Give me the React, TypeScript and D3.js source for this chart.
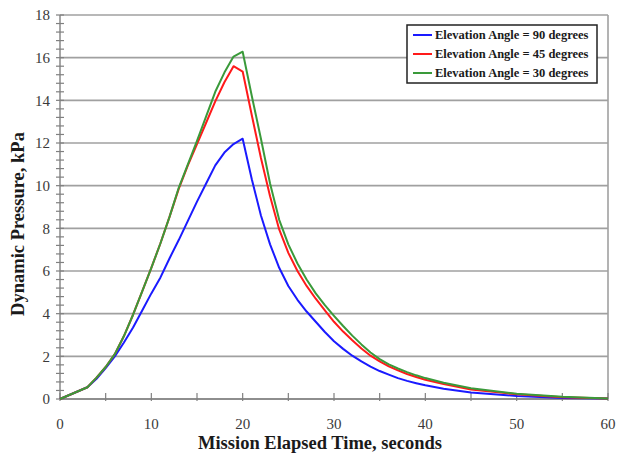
import React from "react";
import * as d3 from "d3";

// Mission elapsed time (s) at which dynamic pressure was sampled
const times = [
  0, 3, 4, 5, 6, 7, 8, 9, 10, 11, 12, 13, 14, 15, 16, 17, 18, 19, 20,
  21, 22, 23, 24, 25, 26, 27, 28, 29, 30, 31, 32, 33, 34, 35, 36, 37, 38, 39, 40,
  42, 45, 50, 55, 60,
];

// Dynamic pressure (kPa) for each elevation angle
const q90 = [
  0, 0.55, 0.95, 1.45, 2.0, 2.65, 3.35, 4.15, 4.95, 5.7, 6.6, 7.45, 8.35, 9.25, 10.1, 10.95, 11.55, 11.95, 12.2,
  10.3, 8.6, 7.25, 6.15, 5.3, 4.65, 4.1, 3.62, 3.14, 2.71, 2.35, 2.03, 1.76, 1.52, 1.31, 1.14, 0.98, 0.85, 0.74, 0.64,
  0.48, 0.31, 0.14, 0.05, 0.02,
];
const q45 = [
  0, 0.55, 1.0, 1.5, 2.1, 2.95, 3.95, 5.05, 6.15, 7.3, 8.55, 9.85, 10.95, 11.95, 12.95, 13.95, 14.85, 15.6, 15.35,
  13.3, 11.3, 9.5, 7.95, 6.85, 6.0, 5.3, 4.7, 4.15, 3.62, 3.16, 2.75, 2.37, 2.03, 1.76, 1.53, 1.34, 1.17, 1.03, 0.9,
  0.7, 0.45, 0.22, 0.08, 0.02,
];
const q30 = [
  0, 0.55, 1.0, 1.5, 2.1, 2.95, 3.95, 5.05, 6.15, 7.3, 8.55, 9.9, 11.0, 12.1, 13.25, 14.4, 15.3, 16.05, 16.28,
  14.2, 12.2, 10.1, 8.4, 7.25, 6.35, 5.6, 4.95, 4.4, 3.9, 3.42, 2.97, 2.56, 2.18, 1.87, 1.62, 1.43, 1.26, 1.11, 0.98,
  0.76, 0.5, 0.25, 0.1, 0.02,
];

const seriesNames = [
  "Elevation Angle = 90 degrees",
  "Elevation Angle = 45 degrees",
  "Elevation Angle = 30 degrees",
];
const seriesColors = ["#1a1aff", "#ff1a1a", "#3a9a3a"];
const seriesValues = [q90, q45, q30];

const xTicks = [0, 10, 20, 30, 40, 50, 60];
const yTicks = [0, 2, 4, 6, 8, 10, 12, 14, 16, 18];

const W = 618;
const H = 456;
const left = 60;
const right = 608;
const top = 15;
const bottom = 399;

const serif = "'Liberation Serif', 'Times New Roman', serif";

export default function App() {
  const x = d3.scaleLinear().domain([0, 60]).range([left, right]);
  const y = d3.scaleLinear().domain([0, 18]).range([bottom, top]);

  const line = d3
    .line<[number, number]>()
    .x((d) => x(d[0]))
    .y((d) => y(d[1]));

  const minorY = d3.range(0, 18.0001, 0.4);
  const minorX = d3.range(0, 60.0001, 5);

  return (
    <svg
      width={W}
      height={H}
      style={{ position: "absolute", left: 0, top: 0, background: "#fff" }}
    >
      {/* horizontal gridlines */}
      {yTicks.map((t) => (
        <line
          key={"g" + t}
          x1={left}
          x2={right}
          y1={y(t)}
          y2={y(t)}
          stroke="#a0a0a0"
          strokeWidth={1.6}
        />
      ))}
      {/* right frame edge */}
      <line x1={right} x2={right} y1={top} y2={bottom} stroke="#a0a0a0" strokeWidth={1.6} />

      {/* y axis */}
      <line x1={left} x2={left} y1={top} y2={bottom} stroke="#808080" strokeWidth={1.4} />
      {minorY.map((t, i) => (
        <line
          key={"my" + i}
          x1={left - 4}
          x2={left + 4}
          y1={y(t)}
          y2={y(t)}
          stroke="#808080"
          strokeWidth={1.2}
        />
      ))}
      {yTicks.map((t) => (
        <text
          key={"yl" + t}
          x={left - 10}
          y={y(t)}
          dy="0.35em"
          textAnchor="end"
          fontFamily={serif}
          fontSize={15}
          fill="#3a3a3a"
        >
          {t}
        </text>
      ))}

      {/* x axis */}
      <line x1={left} x2={right} y1={bottom} y2={bottom} stroke="#808080" strokeWidth={1.6} />
      {minorX.map((t, i) => (
        <line
          key={"mx" + i}
          x1={x(t)}
          x2={x(t)}
          y1={bottom - 6}
          y2={bottom + 2}
          stroke="#808080"
          strokeWidth={1.2}
        />
      ))}
      {xTicks.map((t) => (
        <text
          key={"xl" + t}
          x={x(t)}
          y={bottom + 30}
          textAnchor="middle"
          fontFamily={serif}
          fontSize={15}
          fill="#3a3a3a"
        >
          {t}
        </text>
      ))}

      {/* series */}
      {seriesValues.map((vals, si) => (
        <path
          key={"s" + si}
          d={line(times.map((t, i) => [t, vals[i]] as [number, number])) || ""}
          fill="none"
          stroke={seriesColors[si]}
          strokeWidth={2}
          strokeLinejoin="round"
        />
      ))}

      {/* axis titles */}
      <text
        x={(left + right) / 2 - 14}
        y={449}
        textAnchor="middle"
        fontFamily={serif}
        fontWeight="bold"
        fontSize={18.5}
        fill="#1a1a1a"
      >
        Mission Elapsed Time, seconds
      </text>
      <text
        transform={`translate(24, ${(top + bottom) / 2 + 17}) rotate(-90)`}
        textAnchor="middle"
        fontFamily={serif}
        fontWeight="bold"
        fontSize={18.5}
        fill="#1a1a1a"
      >
        Dynamic Pressure, kPa
      </text>

      {/* legend */}
      <rect x={407} y={25} width={190} height={58} fill="#fff" stroke="#222" strokeWidth={1.5} />
      {seriesNames.map((name, i) => (
        <g key={"lg" + i} transform={`translate(0, ${35 + i * 19})`}>
          <line x1={413} x2={432} y1={0} y2={0} stroke={seriesColors[i]} strokeWidth={2} />
          <text
            x={435}
            y={0}
            dy="0.35em"
            fontFamily={serif}
            fontWeight="bold"
            fontSize={12.5}
            fill="#1a1a1a"
          >
            {name}
          </text>
        </g>
      ))}
    </svg>
  );
}
